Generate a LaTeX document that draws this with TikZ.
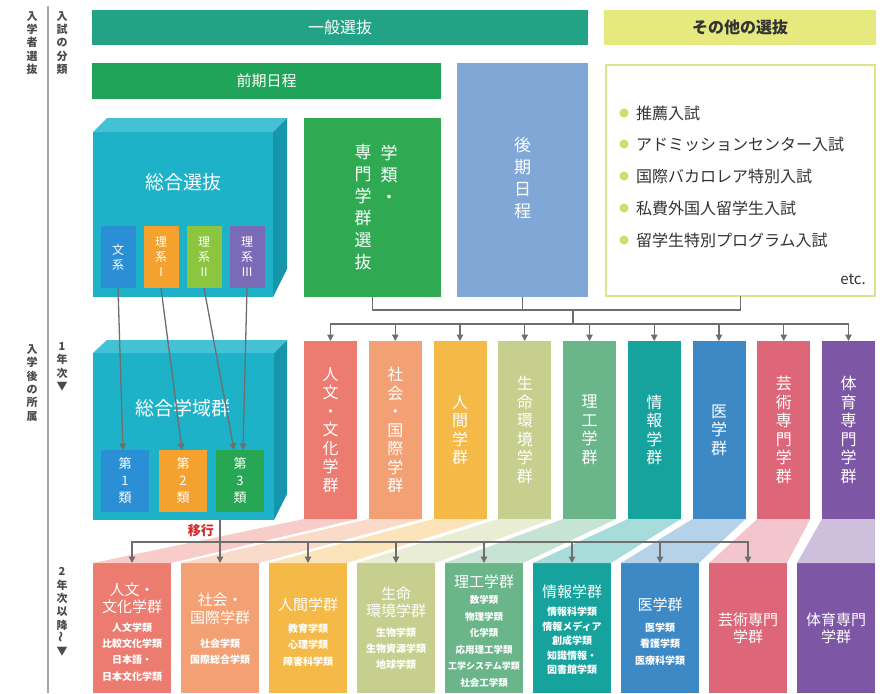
\documentclass[tikz,border=0pt]{standalone}
\usepackage{fontspec}
\setmainfont{Noto Sans CJK JP}
\usetikzlibrary{arrows.meta}
\definecolor{ippan}{HTML}{22A386}
\definecolor{sonota}{HTML}{E6E97E}
\definecolor{zenki}{HTML}{1FA459}
\definecolor{gakurui}{HTML}{2FAA52}
\definecolor{koki}{HTML}{80A7D5}
\definecolor{listbd}{HTML}{DEE48A}
\definecolor{bulletc}{HTML}{D5DC6C}
\definecolor{cubef}{HTML}{1EB2C8}
\definecolor{cubet}{HTML}{45C1D5}
\definecolor{cubes}{HTML}{1696AC}
\definecolor{blu}{HTML}{2B8FD6}
\definecolor{ora}{HTML}{F4A12D}
\definecolor{lgr}{HTML}{8CC63F}
\definecolor{pur}{HTML}{7A6BB6}
\definecolor{grn}{HTML}{27A653}
\definecolor{lin}{HTML}{6E6E6E}
\definecolor{axc}{HTML}{4A4A4A}
\definecolor{ikored}{HTML}{D42A2A}
\definecolor{gA}{HTML}{EC7B70}
\definecolor{gB}{HTML}{F2A074}
\definecolor{gC}{HTML}{F5B947}
\definecolor{gD}{HTML}{C6CF8E}
\definecolor{gE}{HTML}{6BB58A}
\definecolor{gF}{HTML}{16A39D}
\definecolor{gG}{HTML}{3C89C6}
\definecolor{gH}{HTML}{DE6679}
\definecolor{gI}{HTML}{7E56A6}
\newcommand{\myfs}[2]{\fontsize{#1}{#2}\selectfont}
\begin{document}
\begin{tikzpicture}[x=1pt,y=-1pt,
  box/.style 2 args={inner sep=0,outer sep=0,minimum width=#1pt,minimum height=#2pt,draw=none},
  wt/.style={text=white,inner sep=0,align=center},
  axt/.style={text=axc,inner sep=0,align=center,font=\bfseries\myfs{11}{13.3}},
  ln/.style={draw=lin,line width=1.3pt},
  arr/.style={draw=lin,line width=1.3pt,-{Triangle[length=6.5pt,width=6.5pt]}},
  mid/.style={wt,font=\myfs{16}{18.5}},
  btit/.style={wt,font=\myfs{15}{17.5}},
  bsub/.style={wt,font=\bfseries\myfs{10}{16.3}},
  lst/.style={text=black!80,inner sep=0,anchor=west,font=\myfs{16}{16}}]
\useasboundingbox (0,0) rectangle (896,693);
\fill[white] (0,0) rectangle (896,693);

% ---- axis ----
\draw[draw=black!35,line width=1.2pt] (48,6) -- (48,693);
\node[axt] (ax1) at (32,43) {入\\学\\者\\選\\抜};
\node[axt] (ax2) at (62,43) {入\\試\\の\\分\\類};
\node[axt] (ax3) at (32,383) {入\\学\\後\\の\\所\\属};
\node[axt] (ax4) at (62,367) {1\\年\\次\\▼};
\node[axt] (ax5) at (62,612) {2\\年\\次\\以\\降\\\rotatebox{90}{～}\\▼};

% ---- top row ----
\node[box={496}{35},fill=ippan] (ippan) at (340,27.5) {};
\node[wt,font=\myfs{16}{16}] (ippant) at (ippan) {一般選抜};
\node[box={272}{35},fill=sonota] (sono) at (740,27.5) {};
\node[inner sep=0,text=black!80,font=\bfseries\myfs{16}{16}] (sonot) at (sono) {その他の選抜};
\node[box={349}{36},fill=zenki] (zenki) at (266.5,81) {};
\node[wt,font=\myfs{15}{15}] (zenkit) at (zenki) {前期日程};

\node[box={131}{234},fill=koki] (koki) at (522.5,180) {};
\node[wt,font=\myfs{17}{22}] (kokit) at (522.5,178) {後\\期\\日\\程};

\node[box={269}{231},draw=listbd,line width=2.6pt,fill=white] (list) at (740.5,180.5) {};
\foreach \yy/\tx [count=\i] in {113/推薦入試,144/アドミッションセンター入試,176/国際バカロレア特別入試,208/私費外国人留学生入試,240/留学生特別プログラム入試}{
  \fill[bulletc] (624,\yy) circle (4.6pt);
  \node[lst] (li\i) at (636,\yy) {\tx};
}
\node[inner sep=0,anchor=east,text=black!80,font=\myfs{15}{15}] (etc) at (866,279) {etc.};

\node[box={137}{179},fill=gakurui] (gaku) at (372.5,207.5) {};
\node[wt,font=\myfs{17}{22}] (gakut1) at (389,174) {学\\類\\・};
\node[wt,font=\myfs{17}{22}] (gakut2) at (363,207) {専\\門\\学\\群\\選\\抜};

% ---- cube 1 ----
\node[box={180}{165},fill=cubef] (cube1) at (183,214.5) {};
\fill[cubet] (cube1.north west) -- ++(14,-14) -- ++(180,0) -- (cube1.north east) -- cycle;
\fill[cubes] (cube1.north east) -- ++(14,-14) -- ++(0,151) -- (cube1.south east) -- cycle;
\node[wt,font=\myfs{19}{19}] (cube1t) at (183,182) {総合選抜};
\node[box={35}{62},fill=blu] (bunkei) at (118,257) {};
\node[box={35}{62},fill=ora] (rik1) at (161,257) {};
\node[box={35}{62},fill=lgr] (rik2) at (204,257) {};
\node[box={35}{62},fill=pur] (rik3) at (247,257) {};
\node[wt,font=\myfs{12}{15}] (bunkeit) at (bunkei) {文\\系};
\node[wt,font=\myfs{12}{15}] (rik1t) at (rik1) {理\\系\\Ⅰ};
\node[wt,font=\myfs{12}{15}] (rik2t) at (rik2) {理\\系\\Ⅱ};
\node[wt,font=\myfs{12}{15}] (rik3t) at (rik3) {理\\系\\Ⅲ};

% ---- cube 2 ----
\node[box={181}{167},fill=cubef] (cube2) at (183.5,436.5) {};
\fill[cubet] (cube2.north west) -- ++(14,-13) -- ++(180,0) -- (cube2.north east) -- cycle;
\fill[cubes] (cube2.north east) -- ++(13,-13) -- ++(0,154) -- (cube2.south east) -- cycle;
\node[wt,font=\myfs{19}{19}] (cube2t) at (183,408) {総合学域群};
\node[box={48}{62},fill=blu] (dai1) at (125,481) {};
\node[box={48}{62},fill=ora] (dai2) at (183,481) {};
\node[box={48}{62},fill=grn] (dai3) at (240,481) {};
\node[wt,font=\myfs{13}{17}] (dai1t) at (dai1) {第\\1\\類};
\node[wt,font=\myfs{13}{17}] (dai2t) at (dai2) {第\\2\\類};
\node[wt,font=\myfs{13}{17}] (dai3t) at (dai3) {第\\3\\類};

\draw[arr] (bunkei.south) -- ([xshift=-2pt]dai1.north);
\draw[arr] (rik1.south) -- ([xshift=-1pt]dai2.north);
\draw[arr] (rik2.south) -- ([xshift=-6pt]dai3.north);
\draw[arr] (rik3.south) -- ([xshift=3pt]dai3.north);

% ---- middle row ----
\foreach \i/\cx/\col in {1/330.5/gA,2/395.25/gB,3/460/gC,4/524.75/gD,5/589.5/gE,6/654.25/gF,7/719/gG,8/783.75/gH,9/848.5/gI}{
  \node[box={53}{178},fill=\col] (m\i) at (\cx,430) {};
}
% ---- bottom row ----
\foreach \i/\cx/\col in {1/132/gA,2/220/gB,3/308/gC,4/396/gD,5/484/gE,6/572/gF,7/660/gG,8/748/gH,9/836/gI}{
  \node[box={78}{130},fill=\col] (b\i) at (\cx,628) {};
}
% ribbons
\foreach \i/\col in {1/gA,2/gB,3/gC,4/gD,5/gE,6/gF,7/gG,8/gH,9/gI}{
  \fill[\col!38] (m\i.south west) -- (m\i.south east) -- (b\i.north east) -- (b\i.north west) -- cycle;
}

\node[mid] (m1t) at (m1) {人\\文\\・\\文\\化\\学\\群};
\node[mid] (m2t) at (m2) {社\\会\\・\\国\\際\\学\\群};
\node[mid] (m3t) at (m3) {人\\間\\学\\群};
\node[mid] (m4t) at (m4) {生\\命\\環\\境\\学\\群};
\node[mid] (m5t) at (m5) {理\\工\\学\\群};
\node[mid] (m6t) at (m6) {情\\報\\学\\群};
\node[mid] (m7t) at (m7) {医\\学\\群};
\node[mid] (m8t) at (m8) {芸\\術\\専\\門\\学\\群};
\node[mid] (m9t) at (m9) {体\\育\\専\\門\\学\\群};

\node[btit] (b1t) at (132,598.5) {人文・\\文化学群};
\node[bsub] (b1s) at (132,652) {人文学類\\比較文化学類\\日本語・\\日本文化学類};
\node[btit] (b2t) at (220,609) {社会・\\国際学群};
\node[bsub] (b2s) at (220,651.5) {社会学類\\国際総合学類};
\node[btit] (b3t) at (308,605) {人間学群};
\node[bsub] (b3s) at (308,645) {教育学類\\心理学類\\障害科学類};
\node[btit] (b4t) at (396,602.5) {生命\\環境学群};
\node[bsub] (b4s) at (396,648.5) {生物学類\\生物資源学類\\地球学類};
\node[btit] (b5t) at (484,582) {理工学群};
\node[bsub,font=\bfseries\myfs{9.5}{16.5}] (b5s) at (484,641.5) {数学類\\物理学類\\化学類\\応用理工学類\\{\myfs{9}{16.5}工学システム学類}\\社会工学類};
\node[btit] (b6t) at (572,592) {情報学群};
\node[bsub,font=\bfseries\myfs{10}{14.5}] (b6s) at (572,641) {情報科学類\\情報メディア\\創成学類\\知識情報・\\図書館学類};
\node[btit] (b7t) at (660,605) {医学群};
\node[bsub] (b7s) at (660,644) {医学類\\看護学類\\医療科学類};
\node[btit] (b8t) at (748,628.5) {芸術専門\\学群};
\node[btit] (b9t) at (836,628.5) {体育専門\\学群};

% ---- connectors top -> middle ----
\coordinate (hub) at (573,310);
\coordinate (hub2) at (573,324);
\draw[ln] (gaku.south) |- (hub);
\draw[ln] (koki.south) -- (koki.south |- hub);
\draw[ln] (list.south) |- (hub);
\draw[ln] (hub) -- (hub2);
\foreach \i in {1,...,9}{ \draw[arr] (hub2) -| (m\i.north); }

% ---- connectors cube2 -> bottom ----
\coordinate (hub3) at (220,542);
\draw[ln] (cube2.south -| hub3) -- (hub3);
\foreach \i in {1,...,8}{ \draw[arr] (hub3) -| (b\i.north); }
\node[inner sep=0,text=ikored,font=\bfseries\myfs{13}{13},anchor=east] (ikou) at (214,531) {移行};
\end{tikzpicture}
\end{document}
